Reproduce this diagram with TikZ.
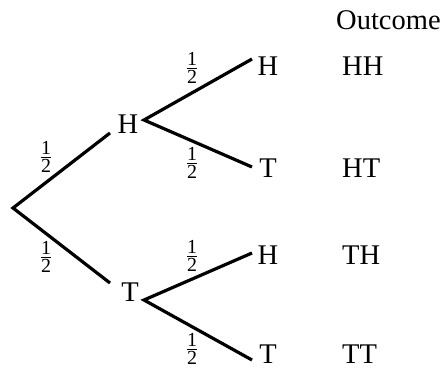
\documentclass[tikz,border=0pt]{standalone}
\usepackage{amsmath}
\usepackage{fontspec}
\setmainfont{Liberation Serif}
\newcommand\hlf{$\frac{\text{1}}{\text{2}}$}
\begin{document}
\begin{tikzpicture}[x=1pt,y=-1pt,
  br/.style={line width=3.2pt,line cap=butt},
  lab/.style={font=\fontsize{28.5}{31}\selectfont,inner sep=0pt},
  prob/.style={font=\fontsize{28.5}{31}\selectfont,inner sep=0pt},
  outc/.style={font=\fontsize{28.5}{31}\selectfont,inner sep=0pt,anchor=west}]
\useasboundingbox (0,0) rectangle (446,369);
% branch points
\coordinate (R) at (13,208);
\coordinate (aH) at (110,133);
\coordinate (aT) at (110,283);
\coordinate (bH) at (144,120);
\coordinate (bT) at (144,300);
\coordinate (cHH) at (252,59);
\coordinate (cHT) at (252,167);
\coordinate (cTH) at (252,253);
\coordinate (cTT) at (252,360);
% letters
\node[lab] (H1) at (128,124) {H};
\node[lab] (T1) at (130,292) {T};
\node[lab] (H2) at (268,66) {H};
\node[lab] (T2) at (268,168) {T};
\node[lab] (H3) at (268,255) {H};
\node[lab] (T3) at (268,354) {T};
% outcomes
\node[outc] (o) at (336,20) {Outcome};
\node[outc] (oHH) at (342,66) {HH};
\node[outc] (oHT) at (342,168) {HT};
\node[outc] (oTH) at (342,255) {TH};
\node[outc] (oTT) at (342,354) {TT};
% branches
\draw[br] (aH) -- (R) -- (aT);
\draw[br] (cHH) -- (bH) -- (cHT);
\draw[br] (cTH) -- (bT) -- (cTT);
% probabilities
\node[prob] (p1) at (46,157) {\hlf};
\node[prob] (p2) at (46,257) {\hlf};
\node[prob] (p3) at (192,68) {\hlf};
\node[prob] (p4) at (192,163) {\hlf};
\node[prob] (p5) at (192,256) {\hlf};
\node[prob] (p6) at (192,349) {\hlf};
\end{tikzpicture}
\end{document}
